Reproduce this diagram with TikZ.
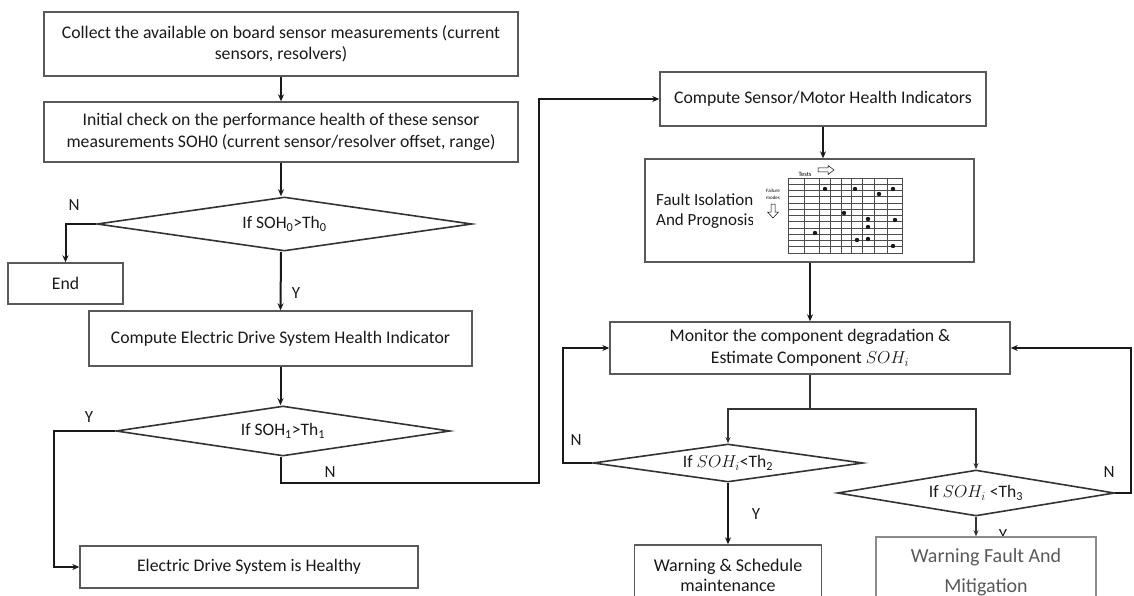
\documentclass[tikz,border=0pt]{standalone}
\usepackage{fontspec}
\setmainfont{Carlito}
\usetikzlibrary{shapes.geometric,arrows.meta}
\begin{document}
\begin{tikzpicture}[x=1pt,y=-1pt,
  box/.style={draw=black!65, line width=1.4pt, rectangle, inner sep=0pt, align=center,
    font=\fontsize{17.7}{21.5}\selectfont, text=black!90},
  dia/.style={draw=black!80, line width=1.6pt, diamond, aspect=6, inner sep=0pt,
    font=\fontsize{17.5}{19}\selectfont, text=black!90},
  conn/.style={line width=2pt, draw=black!90, -{Stealth[length=7pt,width=6pt]}},
  thinconn/.style={line width=1.3pt, draw=black!80, -{Stealth[length=6pt,width=5pt]}},
  thinline/.style={line width=1.3pt, draw=black!80},
  lbl/.style={font=\fontsize{17}{19}\selectfont, inner sep=0pt, text=black!90},
  grid line/.style={line width=0.6pt, draw=black!70},
  dot/.style={fill=black!90}
]
\useasboundingbox (0,0) rectangle (1134,596);

% left column
\node[box, minimum width=474pt, minimum height=64pt] (b1) at (281,44)
  {Collect the available on board sensor measurements (current\\sensors, resolvers)};
\node[box, minimum width=474pt, minimum height=60pt] (b2) at (281,132)
  {Initial check on the performance health of these sensor\\measurements SOH0 (current sensor/resolver offset, range)};
\node[dia, minimum width=375pt, minimum height=54pt] (d0) at (284.5,224)
  {If SOH\textsubscript{0}>Th\textsubscript{0}};
\node[box, minimum width=115pt, minimum height=41pt] (end) at (65.5,283.5) {End};
\node[box, minimum width=383pt, minimum height=55pt] (b3) at (280.5,338.5)
  {Compute Electric Drive System Health Indicator};
\node[dia, minimum width=334pt, minimum height=50pt] (d1) at (283,431)
  {If SOH\textsubscript{1}>Th\textsubscript{1}};
\node[box, minimum width=338pt, minimum height=42pt] (healthy) at (249,567)
  {Electric Drive System is Healthy};

% right column
\node[box, minimum width=326pt, minimum height=54pt] (cs) at (823,99)
  {Compute Sensor/Motor Health Indicators};
\node[box, minimum width=329pt, minimum height=103pt] (fault) at (809.5,210.5) {};
\node[anchor=west, align=left, inner sep=0pt, font=\fontsize{17}{20}\selectfont, text=black!90]
  (ftext) at (656,211) {Fault Isolation\\And Prognosis};
\node[box, minimum width=400pt, minimum height=52pt] (mon) at (810,348)
  {Monitor the component degradation \&\\Estimate Component $SOH_i$};
\node[dia, minimum width=270pt, minimum height=38pt] (d2) at (728,463)
  {If $SOH_i$<Th\textsubscript{2}};
\node[dia, minimum width=277pt, minimum height=46pt] (d3) at (976,493)
  {If $SOH_i$ <Th\textsubscript{3}};
\node[box, minimum width=187pt, minimum height=60pt, font=\fontsize{18}{20}\selectfont] (warn) at (728,575)
  {Warning \& Schedule\\maintenance};
\node[lbl] (y3) at (1003,535) {Y};
\node[box, fill=white, draw=black!45, minimum width=220pt, minimum height=70pt,
  font=\fontsize{20}{30}\selectfont, text=black!65] (wfm) at (986,572)
  {Warning Fault And\\Mitigation};

% fault isolation matrix picture
\fill[white] (752.5,214) rectangle (905,256);
\fill[white] (758,165) rectangle (905,214);
\draw[grid line] (788,178) rectangle (902,253);
\foreach \xx in {804,819,830,841,851,862,874,887} {\draw[grid line] (\xx,178) -- (\xx,253);}
\foreach \k in {1,...,11} {\draw[grid line] (788,178+\k*6.25) -- (902,178+\k*6.25);}
\foreach \p in {(825,189),(855,189),(879,194),(893,189),(844,213),(868,219),(895,220),(868,227),(815,233),(857,240),(868,239),(893,246)}
  {\fill[dot] \p circle (2.2);}
\node[inner sep=0pt, font=\fontsize{6.5}{7}\selectfont] (tests) at (805,174) {Tests};
\draw[line width=0.5pt] (818,168) -- (828,168) -- (828,165.5) -- (834,170) -- (828,174.5) -- (828,172) -- (818,172) -- cycle;
\node[inner sep=0pt, align=center, font=\fontsize{5}{7}\selectfont] (fmodes) at (773,194) {Failure\\modes};
\draw[line width=0.5pt] (771,204) -- (775,204) -- (775,212) -- (778.5,212) -- (773,218) -- (767.5,212) -- (771,212) -- cycle;

% connectors left
\draw[conn] (b1.south) -- (b2.north);
\draw[conn] (b2.south) -- (b2.south |- d0.north);
\draw[conn] (d0.west) -| (end.north);
\draw[conn] (b2.south |- d0.south) -- (b3.north);
\draw[conn] (b3.south) -- (b3.south |- d1.north);
\coordinate (yl) at (54,431);
\draw[conn] (d1.west) -- (yl) |- (healthy.west);
\coordinate (nl) at (539,483);
\draw[conn] (b3.south |- d1.south) |- (nl) |- (cs.west);

% connectors right
\draw[conn] (cs.south) -- (cs.south |- fault.north);
\draw[conn] (fault.south -| mon.north) -- (mon.north);
\coordinate (br) at (810,409);
\draw[thinline] (mon.south) -- (br);
\draw[thinconn] (br) -| (d2.north);
\draw[thinconn] (br) -| (d3.north);
\coordinate (l2) at (563,463);
\draw[conn] (d2.west) -- (l2) |- (mon.west);
\draw[conn] (d2.south) -- (warn.north);
\coordinate (r3) at (1131,493);
\draw[conn] (d3.east) -- (r3) |- (mon.east);
\draw[thinconn] (d3.south) -- (d3.south |- wfm.north);

% branch labels
\node[lbl] (n0) at (74,205) {N};
\node[lbl] (y0) at (296,293) {Y};
\node[lbl] (y1) at (89,417) {Y};
\node[lbl] (n1) at (330,472) {N};
\node[lbl] (n2) at (576,440) {N};
\node[lbl] (y2) at (756,514) {Y};
\node[lbl] (n3) at (1109,472) {N};
\end{tikzpicture}
\end{document}
